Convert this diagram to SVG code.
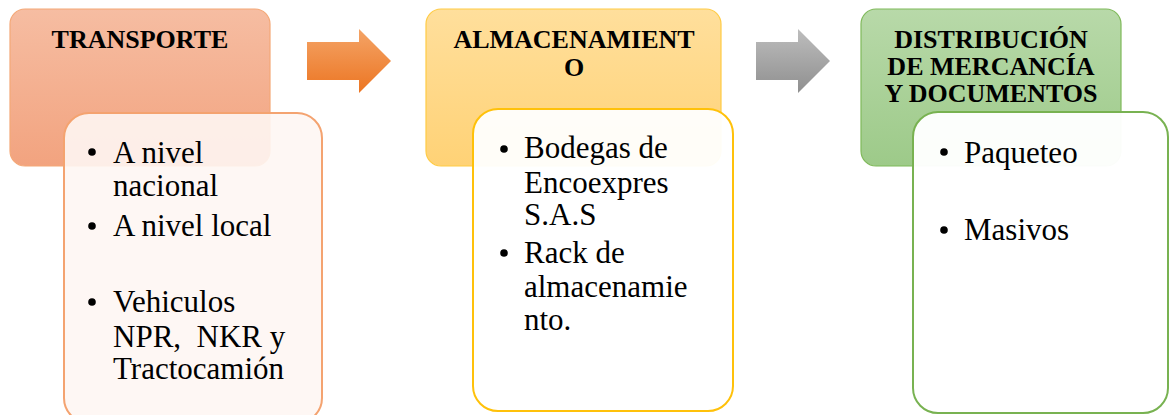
<svg xmlns="http://www.w3.org/2000/svg" width="1169" height="415" viewBox="0 0 1169 415">
<defs>
<linearGradient id="g1" x1="0" y1="0" x2="0" y2="1"><stop offset="0" stop-color="#f6bda2"/><stop offset="1" stop-color="#f2a37f"/></linearGradient>
<linearGradient id="g2" x1="0" y1="0" x2="0" y2="1"><stop offset="0" stop-color="#ffdf9c"/><stop offset="1" stop-color="#ffd276"/></linearGradient>
<linearGradient id="g3" x1="0" y1="0" x2="0" y2="1"><stop offset="0" stop-color="#b8d9a9"/><stop offset="1" stop-color="#9dca89"/></linearGradient>
<linearGradient id="ga1" x1="0" y1="0" x2="0" y2="1"><stop offset="0" stop-color="#f4a467"/><stop offset="1" stop-color="#ec7522"/></linearGradient>
<linearGradient id="ga2" x1="0" y1="0" x2="0" y2="1"><stop offset="0" stop-color="#bdbdbd"/><stop offset="1" stop-color="#8f8f8f"/></linearGradient>
</defs>
<style>
.hd{font-family:"Liberation Serif","Times New Roman",serif;font-weight:bold;font-size:26px;fill:#000;text-anchor:middle}
.bd{font-family:"Liberation Serif","Times New Roman",serif;font-size:31px;fill:#000}
.body{stroke-width:2}
</style>
<g id="connectors">
<path d="M307,42 H359 V29 L391,61 L359,93 V80 H307 Z" fill="url(#ga1)"/>
<path d="M756,42 H798 V29 L830,61 L798,93 V80 H756 Z" fill="url(#ga2)"/>
</g>
<g id="node-transporte">
<rect x="10" y="9" width="260" height="157" rx="15" fill="url(#g1)" stroke="#f4a877" stroke-width="1.2"/>
<text class="hd" x="140" y="48">TRANSPORTE</text>
<rect class="body" x="64" y="113" width="258" height="310" rx="25" fill="#fef6f3" fill-opacity="0.9" stroke="#f4a370"/>
<circle cx="92" cy="152" r="3.8"/>
<text class="bd" x="113" y="163">A nivel</text>
<text class="bd" x="113" y="196">nacional</text>
<circle cx="92" cy="226" r="3.8"/>
<text class="bd" x="113" y="236">A nivel local</text>
<circle cx="92" cy="302" r="3.8"/>
<text class="bd" x="113" y="312">Vehiculos</text>
<text class="bd" x="113" y="347" xml:space="preserve">NPR,  NKR y</text>
<text class="bd" x="113" y="379">Tractocamión</text>
</g>
<g id="node-almacenamiento">
<rect x="426" y="9" width="295" height="157" rx="15" fill="url(#g2)" stroke="#ffcb45" stroke-width="1.2"/>
<text class="hd" x="574" y="48">ALMACENAMIENT</text>
<text class="hd" x="574" y="76">O</text>
<rect class="body" x="473" y="109" width="260" height="302" rx="25" fill="#ffffff" fill-opacity="0.95" stroke="#ffc10a"/>
<circle cx="504" cy="149" r="3.8"/>
<text class="bd" x="524" y="158">Bodegas de</text>
<text class="bd" x="524" y="193">Encoexpres</text>
<text class="bd" x="524" y="225">S.A.S</text>
<circle cx="504" cy="253" r="3.8"/>
<text class="bd" x="524" y="263">Rack de</text>
<text class="bd" x="524" y="297">almacenamie</text>
<text class="bd" x="524" y="330">nto.</text>
</g>
<g id="node-distribucion">
<rect x="861" y="9" width="260" height="157" rx="15" fill="url(#g3)" stroke="#7fb95a" stroke-width="1.2"/>
<text class="hd" x="991" y="48">DISTRIBUCIÓN</text>
<text class="hd" x="991" y="75">DE MERCANCÍA</text>
<text class="hd" x="991" y="102">Y DOCUMENTOS</text>
<rect class="body" x="913" y="112" width="255" height="301" rx="25" fill="#ffffff" fill-opacity="0.97" stroke="#78b251"/>
<circle cx="944" cy="152" r="3.8"/>
<text class="bd" x="964" y="163">Paqueteo</text>
<circle cx="944" cy="230" r="3.8"/>
<text class="bd" x="964" y="240">Masivos</text>
</g>
</svg>
